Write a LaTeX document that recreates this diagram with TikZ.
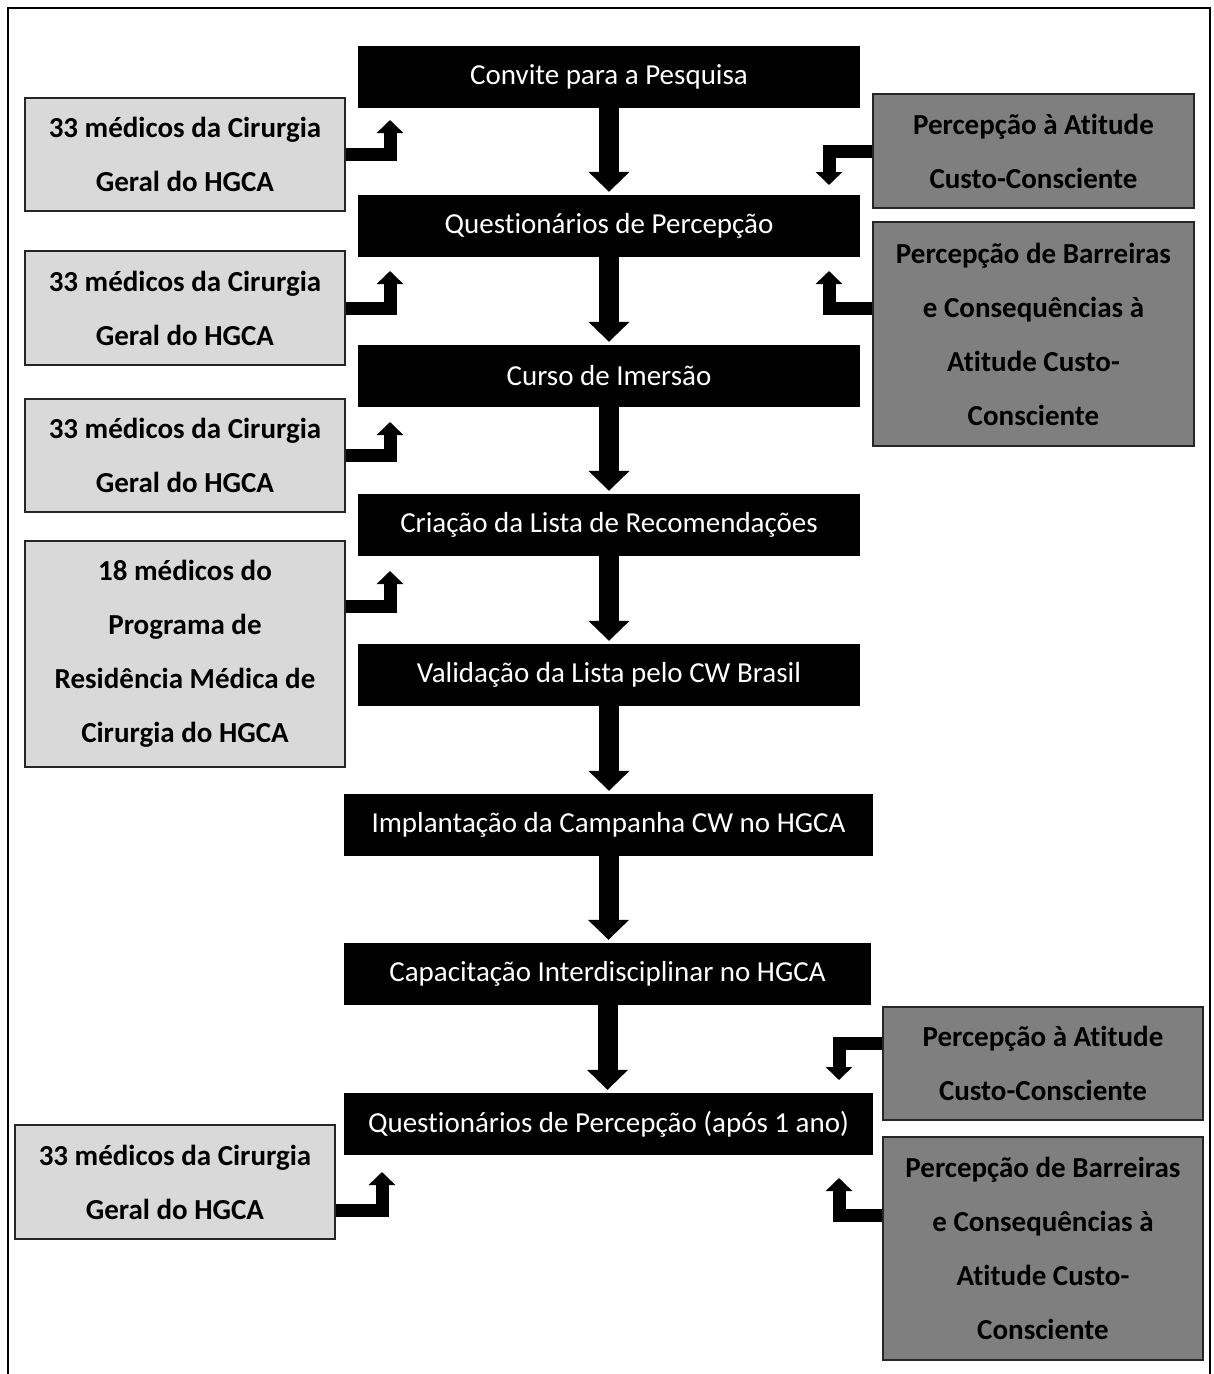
\documentclass[tikz,border=0pt]{standalone}
\usepackage{fontspec}
\setmainfont{Carlito}[Ligatures=NoCommon]
\usetikzlibrary{arrows.meta,calc}
\definecolor{lgray}{HTML}{D9D9D9}
\definecolor{dgray}{HTML}{7F7F7F}
\begin{document}
\begin{tikzpicture}[x=1pt,y=-1pt,
  stepbox/.style={fill=black, text=white, inner sep=0pt, minimum height=62pt,
    font=\fontsize{29}{34}\selectfont},
  lbox/.style={draw=black!85, line width=1.2pt, fill=lgray, inner xsep=0pt, inner ysep=0pt,
    align=flush center, text width=320pt, font=\fontsize{29}{54}\selectfont\bfseries},
  rbox/.style={lbox, fill=dgray},
  bigarrow/.style={line width=20pt, -{Triangle[width=40pt,length=20pt]}},
  elbarrow/.style={line width=13pt, line join=miter, -{Triangle[width=26pt,length=13pt]}}
]
\useasboundingbox (0,0) rectangle (1214,1374);
\draw[line width=2pt] (8,1374) -- (8,8) -- (1210,8) -- (1210,1374);

% main steps
\node[stepbox, minimum width=502pt] (B1) at (609,77) {Convite para a Pesquisa};
\node[stepbox, minimum width=502pt] (B2) at (609,226) {Questionários de Percepção};
\node[stepbox, minimum width=502pt] (B3) at (609,376) {Curso de Imersão};
\node[stepbox, minimum width=502pt] (B4) at (609,525) {Criação da Lista de Recomendações};
\node[stepbox, minimum width=502pt] (B5) at (609,675) {Validação da Lista pelo CW Brasil};
\node[stepbox, minimum width=529pt] (B6) at (608.5,825) {Implantação da Campanha CW no HGCA};
\node[stepbox, minimum width=527pt] (B7) at (607.5,974) {Capacitação Interdisciplinar no HGCA};
\node[stepbox, minimum width=529pt] (B8) at (608.5,1124) {Questionários de Percepção (após 1 ano)};

% left boxes
\node[lbox, minimum height=113pt] (L1) at (185,154.5) {33 médicos da Cirurgia\\Geral do HGCA};
\node[lbox, minimum height=114pt] (L2) at (185,308) {33 médicos da Cirurgia\\Geral do HGCA};
\node[lbox, minimum height=113pt] (L3) at (185,455.5) {33 médicos da Cirurgia\\Geral do HGCA};
\node[lbox, minimum height=226pt] (L4) at (185,654) {18 médicos do\\Programa de\\Residência Médica de\\Cirurgia do HGCA};
\node[lbox, minimum height=114pt] (L5) at (175,1182) {33 médicos da Cirurgia\\Geral do HGCA};

% right boxes
\node[rbox, text width=321pt, minimum height=114pt] (R1) at (1033.5,151) {Percepção à Atitude\\Custo-Consciente};
\node[rbox, text width=321pt, minimum height=224pt] (R2) at (1033.5,334) {Percepção de Barreiras\\e Consequências à\\Atitude Custo-\\Consciente};
\node[rbox, minimum height=113pt] (R3) at (1043,1063.5) {Percepção à Atitude\\Custo-Consciente};
\node[rbox, minimum height=223pt] (R4) at (1043,1248.5) {Percepção de Barreiras\\e Consequências à\\Atitude Custo-\\Consciente};

% vertical arrows
\draw[bigarrow] (B1.south) -- ($(B1.south |- B2.north)+(0,-3)$);
\draw[bigarrow] (B2.south) -- ($(B2.south |- B3.north)+(0,-3)$);
\draw[bigarrow] (B3.south) -- ($(B3.south |- B4.north)+(0,-3)$);
\draw[bigarrow] (B4.south) -- ($(B4.south |- B5.north)+(0,-3)$);
\draw[bigarrow] (B5.south) -- ($(B5.south |- B6.north)+(0,-3)$);
\draw[bigarrow] (B6.south) -- ($(B6.south |- B7.north)+(0,-3)$);
\draw[bigarrow] (B7.south) -- ($(B7.south |- B8.north)+(0,-3)$);

% elbow arrows
\coordinate (t1) at (390,120);
\coordinate (t2) at (390,271);
\coordinate (t3) at (390,422);
\coordinate (t4) at (390,571);
\coordinate (t5) at (382,1172);
\coordinate (u1) at (829,185);
\coordinate (u2) at (829,271);
\coordinate (u3) at (839,1080);
\coordinate (u4) at (839,1178);
\draw[elbarrow] (L1.east) -| (t1);
\draw[elbarrow] (L2.east) -| (t2);
\draw[elbarrow] (L3.east) -| (t3);
\draw[elbarrow] ([yshift=48pt]L4.east) -| (t4);
\draw[elbarrow] ([yshift=-28pt]L5.east) -| (t5);
\draw[elbarrow] (R1.west) -| (u1);
\draw[elbarrow] ([yshift=26pt]R2.west) -| (u2);
\draw[elbarrow] ([yshift=20pt]R3.west) -| (u3);
\draw[elbarrow] ([yshift=33pt]R4.west) -| (u4);
\end{tikzpicture}
\end{document}
